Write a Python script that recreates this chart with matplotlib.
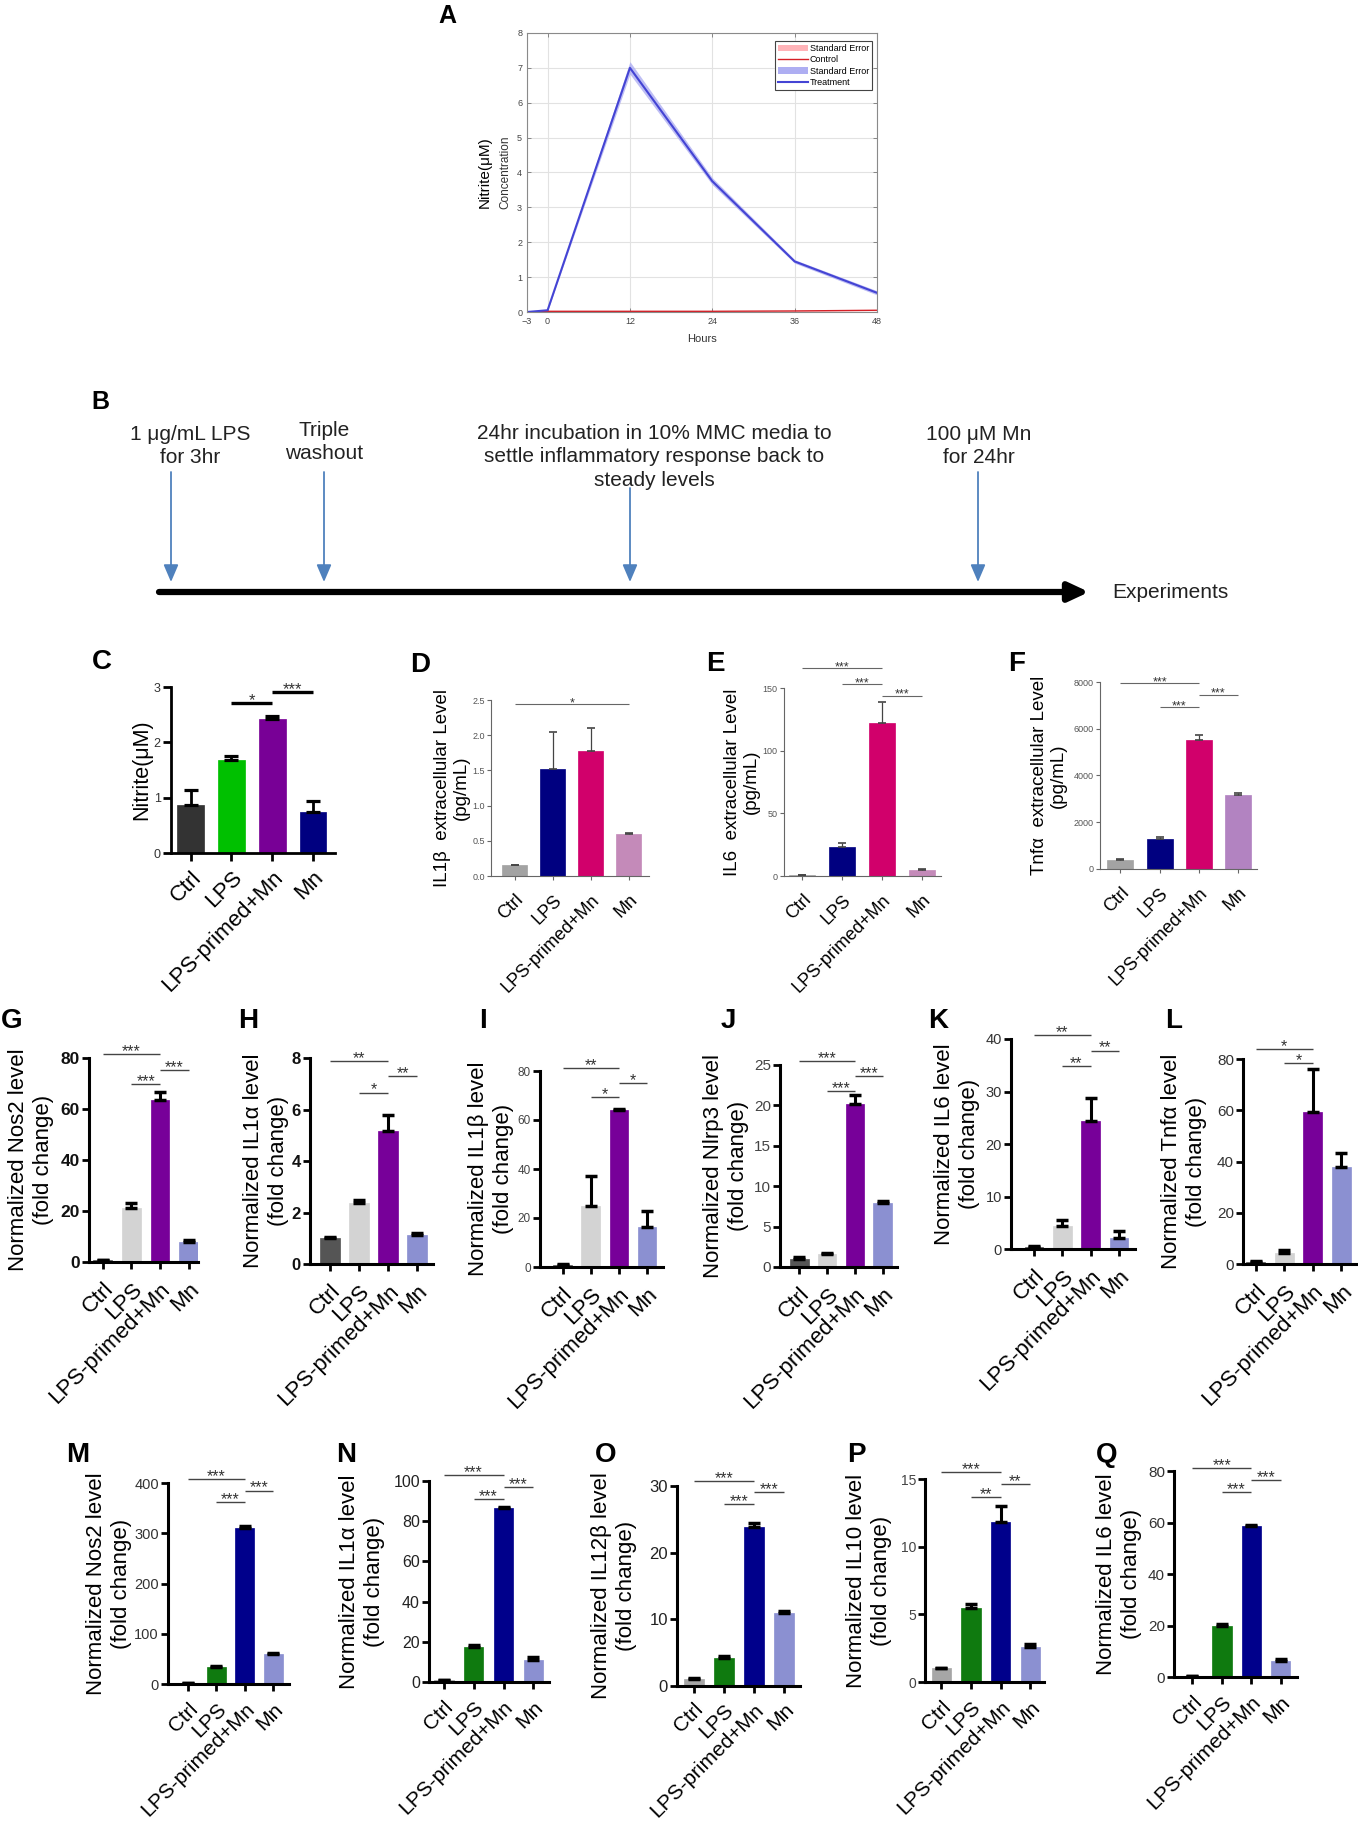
import numpy as np
import matplotlib
matplotlib.use("Agg")
import matplotlib.pyplot as plt
from matplotlib.patches import Patch
from matplotlib.lines import Line2D

plt.rcParams['font.family'] = ['Liberation Sans', 'DejaVu Sans']

#//////////////////////////////////////////////////////////////////////////////
# data

groups = ['Ctrl', 'LPS', 'LPS-primed+Mn', 'Mn']

# panel A - nitrite time course
hours = [-3, 0, 12, 24, 36, 48]
treat = [0.0, 0.05, 7.0, 3.75, 1.45, 0.55]
treat_se = [0.0, 0.02, 0.18, 0.10, 0.05, 0.06]
ctrl = [0.0, 0.02, 0.02, 0.02, 0.03, 0.05]
ctrl_se = [0.0, 0.01, 0.01, 0.01, 0.01, 0.01]

# panel B - protocol timeline
b_events = ['1 μg/mL LPS\nfor 3hr', 'Triple\nwashout',
            '24hr incubation in 10% MMC media to\nsettle inflammatory response back to\nsteady levels',
            '100 μM Mn\nfor 24hr']
b_end = 'Experiments'

# bar panels: means, errors (upper SEM), significance (i, j, height, stars)
c_vals = [0.87, 1.68, 2.43, 0.74]
c_err = [0.27, 0.07, 0.05, 0.20]
c_sig = [(1, 2, 2.71, '*'), (2, 3, 2.91, '***')]

d_vals = [0.15, 1.52, 1.77, 0.60]
d_err = [0.01, 0.53, 0.33, 0.01]
d_sig = [(0, 3, 2.44, '*')]

e_vals = [0.5, 23, 122, 4.5]
e_err = [0.3, 3, 17, 0.7]
e_sig = [(0, 2, 166, '***'), (1, 2, 153, '***'), (2, 3, 144, '***')]

f_vals = [380, 1300, 5530, 3150]
f_err = [30, 70, 200, 100]
f_sig = [(0, 2, 7950, '***'), (1, 2, 6930, '***'), (2, 3, 7460, '***')]

g_vals = [0.6, 21, 63.5, 8]
g_err = [0.2, 2, 3, 0.7]
g_sig = [(0, 2, 81.7, '***'), (1, 2, 69.9, '***'), (2, 3, 75.4, '***')]

h_vals = [1.0, 2.38, 5.15, 1.12]
h_err = [0.03, 0.12, 0.65, 0.07]
h_sig = [(0, 2, 7.9, '**'), (1, 2, 6.66, '*'), (2, 3, 7.29, '**')]

i_vals = [0.8, 25, 64, 16.5]
i_err = [0.6, 12, 0.5, 6.5]
i_sig = [(0, 2, 81.1, '**'), (1, 2, 69.3, '*'), (2, 3, 75.2, '*')]

j_vals = [1.0, 1.55, 20.2, 7.9]
j_err = [0.25, 0.15, 1.1, 0.3]
j_sig = [(0, 2, 25.5, '***'), (1, 2, 21.8, '***'), (2, 3, 23.6, '***')]

k_vals = [0.3, 4.3, 24.4, 2.1]
k_err = [0.3, 1.3, 4.3, 1.3]
k_sig = [(0, 2, 40.8, '**'), (1, 2, 34.8, '**'), (2, 3, 37.8, '**')]

l_vals = [0.8, 4.3, 59.5, 38]
l_err = [0.5, 1.2, 16.5, 5.5]
l_sig = [(0, 2, 83.9, '*'), (1, 2, 78.6, '*')]

m_vals = [1.5, 33, 310, 59]
m_err = [1, 3, 4, 2]
m_sig = [(0, 2, 408, '***'), (1, 2, 362, '***'), (2, 3, 385, '***')]

n_vals = [0.8, 17.5, 86.5, 11]
n_err = [0.4, 0.8, 0.5, 1.3]
n_sig = [(0, 2, 103, '***'), (1, 2, 90.9, '***'), (2, 3, 97, '***')]

o_vals = [1.0, 4.2, 23.9, 11.0]
o_err = [0.2, 0.3, 0.5, 0.2]
o_sig = [(0, 2, 30.8, '***'), (1, 2, 27.3, '***'), (2, 3, 29.1, '***')]

p_vals = [1.0, 5.5, 11.8, 2.6]
p_err = [0.05, 0.3, 1.2, 0.2]
p_sig = [(0, 2, 15.5, '***'), (1, 2, 13.7, '**'), (2, 3, 14.6, '**')]

q_vals = [0.3, 20, 58.5, 6.3]
q_err = [0.1, 0.6, 0.6, 0.6]
q_sig = [(0, 2, 81.3, '***'), (1, 2, 71.9, '***'), (2, 3, 76.4, '***')]

#//////////////////////////////////////////////////////////////////////////////
# colours

cols_c = ['#333333', '#00c000', '#780096', '#000080']
cols_def = ['#a3a3a3', '#000080', '#d1006b', '#c48ab9']
cols_f = ['#a3a3a3', '#000080', '#d1006b', '#b283c1']
cols_gl = ['#555555', '#d3d3d3', '#770099', '#8b90d1']
cols_mq = ['#a6a6a6', '#0f7a0f', '#00008b', '#8b90d1']

#//////////////////////////////////////////////////////////////////////////////
# figure, everything placed in pixels of the 1358x1826 canvas

W, H = 1358, 1826
fig = plt.figure(figsize=(W / 100, H / 100), dpi=100)


def px_axes(l, r, t, b):
    return fig.add_axes([l / W, 1 - b / H, (r - l) / W, (b - t) / H])


def fig_text(x, y, s, **kw):
    fig.text(x / W, 1 - y / H, s, **kw)


# overlay for the timeline and panel letters
ov = fig.add_axes([0, 0, 1, 1])
ov.set_xlim(0, W)
ov.set_ylim(H, 0)
ov.axis('off')

letters = {'A': (447, 16), 'B': (100, 402), 'C': (102, 662), 'D': (420, 665),
           'E': (715, 664), 'F': (1017, 664), 'G': (12, 1021), 'H': (248, 1021),
           'I': (483, 1021), 'J': (728, 1021), 'K': (938, 1021), 'L': (1174, 1021),
           'M': (78, 1455), 'N': (346, 1455), 'O': (606, 1455), 'P': (856, 1455),
           'Q': (1107, 1455)}
for k, (x, y) in letters.items():
    ov.text(x, y, k, fontsize=18 if k in 'AB' else 20, fontweight='bold',
            ha='center', va='center')

#//////////////////////////////////////////////////////////////////////////////
# A

ax = px_axes(527, 877, 33, 312)
ax.fill_between(hours, np.array(ctrl) - ctrl_se, np.array(ctrl) + ctrl_se,
                color='#ffb3b8', alpha=0.8, lw=0)
ax.plot(hours, ctrl, color='#d61f26', lw=1.0)
ax.fill_between(hours, np.array(treat) - treat_se, np.array(treat) + treat_se,
                color='#aeaef2', alpha=0.8, lw=0)
ax.plot(hours, treat, color='#4444d4', lw=1.5)
ax.set_xlim(-3, 48)
ax.set_ylim(0, 8)
ax.set_xticks([-3, 0, 12, 24, 36, 48])
ax.set_yticks(range(9))
ax.grid(True, color='#e2e2e2', lw=0.8)
ax.set_axisbelow(True)
ax.tick_params(direction='in', top=True, right=True, labelsize=6.5,
               labelcolor='#444444', length=3, color='#777777', width=0.6)
for s in ax.spines.values():
    s.set_color('#8a8a8a')
    s.set_linewidth(0.8)
handles = [Patch(facecolor='#ffb3b8', edgecolor='none'),
           Line2D([], [], color='#d61f26', lw=1.0),
           Patch(facecolor='#aeaef2', edgecolor='none'),
           Line2D([], [], color='#4444d4', lw=1.5)]
leg = ax.legend(handles, ['Standard Error', 'Control', 'Standard Error', 'Treatment'],
                loc='upper right', bbox_to_anchor=(0.985, 0.97), fontsize=6.5,
                fancybox=False, edgecolor='#444444', framealpha=1,
                handlelength=3.3, handletextpad=0.2, borderpad=0.3,
                labelspacing=0.25, borderaxespad=0)
leg.get_frame().set_linewidth(0.8)
fig_text(485, 172, 'Nitrite(μM)', rotation=90, ha='center', va='center', fontsize=11)
fig_text(505, 172, 'Concentration', rotation=90, ha='center', va='center',
         fontsize=8.5, color='#333333')
fig_text(702, 339, 'Hours', ha='center', va='center', fontsize=8, color='#333333')

#//////////////////////////////////////////////////////////////////////////////
# B - timeline

b_text_x = [190, 324, 654, 979]
b_text_y = [446, 442, 457, 446]
b_arrow_x = [171, 324, 630, 978]
b_arrow_top = [472, 472, 488, 472]
for s, tx, ty, axx, at in zip(b_events, b_text_x, b_text_y, b_arrow_x, b_arrow_top):
    ov.text(tx, ty, s, ha='center', va='center', fontsize=15,
            linespacing=1.3, color='#222222')
    ov.annotate('', xy=(axx, 582), xytext=(axx, at),
                arrowprops=dict(arrowstyle='-|>,head_width=0.3,head_length=0.7',
                                color='#4f81bd', lw=1.3, mutation_scale=15,
                                shrinkA=0, shrinkB=0))
ov.annotate('', xy=(1089, 592), xytext=(159, 592),
            arrowprops=dict(arrowstyle='-|>,head_width=0.28,head_length=0.6',
                            color='black', lw=4.5, mutation_scale=20,
                            shrinkA=0, shrinkB=0))
ov.text(1170, 592, b_end, ha='center', va='center', fontsize=15, color='#222222')

#//////////////////////////////////////////////////////////////////////////////
# bar panels

styles = {
    'c': dict(spine_lw=2.0, spine_col='black', xtick_size=16, tick_len=6, tick_w=2.0,
              xpad=4, err_col='black', err_lw=2.0, cap=5, sig_lw=2.4, sig_col='black',
              star_size=12, ylab_size=15.5, ls=1.2),
    'light': dict(spine_lw=0.8, spine_col='#666666', xtick_size=13, tick_len=3,
                  tick_w=0.8, xpad=8, err_col='#444444', err_lw=0.9, cap=3,
                  sig_lw=0.8, sig_col='#666666', star_size=9, ylab_size=13.5, ls=1.15),
    'bold': dict(spine_lw=2.2, spine_col='black', xtick_size=15, tick_len=5,
                 tick_w=2.0, xpad=8, err_col='black', err_lw=2.2, cap=4, sig_lw=1.0,
                 sig_col='#444444', star_size=11.5, ylab_size=16, ls=1.3),
}


def bar_panel(rect, xlim, yticks, vals, errs, colors, sig, ylab, ylab_x, style,
              ytick=(9, 'normal', '#333333'), fmt='%d', xpad=None, xsize=None):
    st = styles[style]
    ax = px_axes(*rect)
    x = np.arange(len(vals))
    ax.bar(x, vals, width=0.66, color=colors, edgecolor=colors, lw=0.5, zorder=2)
    ax.errorbar(x, vals, yerr=[np.zeros(len(vals)), errs], fmt='none',
                ecolor=st['err_col'], elinewidth=st['err_lw'], capsize=st['cap'],
                capthick=st['err_lw'] + 0.3, zorder=3)
    ax.set_xlim(*xlim)
    ax.set_ylim(yticks[0], yticks[-1])
    ax.set_yticks(yticks)
    ax.set_yticklabels([fmt % t for t in yticks], fontweight=ytick[1])
    ax.set_xticks(x)
    ax.set_xticklabels(groups, rotation=45, ha='right', va='top',
                       rotation_mode='anchor',
                       fontsize=st['xtick_size'] if xsize is None else xsize)
    for side in ['top', 'right']:
        ax.spines[side].set_visible(False)
    for side in ['left', 'bottom']:
        ax.spines[side].set_linewidth(st['spine_lw'])
        ax.spines[side].set_color(st['spine_col'])
    ax.tick_params(axis='y', labelsize=ytick[0], labelcolor=ytick[2],
                   length=st['tick_len'], width=st['tick_w'], color=st['spine_col'],
                   pad=1.5)
    ax.tick_params(axis='x', length=st['tick_len'], width=st['tick_w'],
                   color=st['spine_col'], pad=st['xpad'] if xpad is None else xpad)
    for a, b, y, stars in sig:
        ax.plot([a, b], [y, y], color=st['sig_col'], lw=st['sig_lw'], clip_on=False,
                solid_capstyle='butt')
        ax.annotate(stars, xy=((a + b) / 2, y), xytext=(0, -1.5),
                    textcoords='offset points', ha='center', va='baseline',
                    fontsize=st['star_size'], color='#333333', annotation_clip=False)
    yc = (rect[2] + rect[3]) / 2
    fig_text(ylab_x, yc, ylab, rotation=90, ha='center', va='center',
             fontsize=st['ylab_size'], multialignment='center', linespacing=st['ls'])
    return ax


bar_panel((171, 335, 687, 853), (-0.48, 3.54), [0, 1, 2, 3], c_vals, c_err, cols_c,
          c_sig, 'Nitrite(μM)', 142, 'c', ytick=(9, 'normal', '#333333'))
bar_panel((491, 649, 700, 876), (-0.63, 3.53), [0, 0.5, 1.0, 1.5, 2.0, 2.5], d_vals,
          d_err, cols_def, d_sig, 'IL1β  extracellular Level\n(pg/mL)', 452, 'light',
          ytick=(6.5, 'normal', '#555555'), fmt='%.1f')
bar_panel((784, 941, 688, 876), (-0.46, 3.48), [0, 50, 100, 150], e_vals, e_err,
          cols_def, e_sig, 'IL6  extracellular Level\n(pg/mL)', 742, 'light',
          ytick=(6.5, 'normal', '#555555'))
bar_panel((1100, 1257, 682, 869), (-0.52, 3.48), [0, 2000, 4000, 6000, 8000], f_vals,
          f_err, cols_f, f_sig, 'Tnfα  extracellular Level\n(pg/mL)', 1049, 'light',
          ytick=(6.5, 'normal', '#555555'))

bar_panel((89, 198, 1058, 1262), (-0.48, 3.33), [0, 20, 40, 60, 80], g_vals, g_err,
          cols_gl, g_sig, 'Normalized Nos2 level\n(fold change)', 31, 'bold',
          ytick=(12.5, 'bold', '#111111'), xsize=16, xpad=7)
bar_panel((310, 433, 1058, 1264), (-0.69, 3.55), [0, 2, 4, 6, 8], h_vals, h_err,
          cols_gl, h_sig, 'Normalized IL1α level\n(fold change)', 266, 'bold',
          ytick=(12, 'bold', '#111111'), xsize=16, xpad=7)
bar_panel((540, 663, 1071, 1267), (-0.8, 3.57), [0, 20, 40, 60, 80], i_vals, i_err,
          cols_gl, i_sig, 'Normalized IL1β level\n(fold change)', 491, 'bold',
          ytick=(8.5, 'normal', '#444444'), xsize=16, xpad=7)
bar_panel((780, 897, 1065, 1267), (-0.7, 3.52), [0, 5, 10, 15, 20, 25], j_vals, j_err,
          cols_gl, j_sig, 'Normalized Nlrp3 level\n(fold change)', 726, 'bold',
          ytick=(11, 'normal', '#444444'), xsize=16, xpad=7)
bar_panel((1011, 1135, 1039, 1249), (-0.81, 3.57), [0, 10, 20, 30, 40], k_vals, k_err,
          cols_gl, k_sig, 'Normalized IL6 level\n(fold change)', 957, 'bold',
          ytick=(10.5, 'normal', '#333333'), xsize=16, xpad=7)
bar_panel((1243, 1358, 1059, 1264), (-0.45, 3.58), [0, 20, 40, 60, 80], l_vals, l_err,
          cols_gl, l_sig, 'Normalized Tnfα level\n(fold change)', 1184, 'bold',
          ytick=(11, 'normal', '#333333'), xsize=16, xpad=7)

bar_panel((168, 289, 1483, 1684), (-0.7, 3.55), [0, 100, 200, 300, 400], m_vals, m_err,
          cols_mq, m_sig, 'Normalized Nos2 level\n(fold change)', 109, 'bold',
          ytick=(10.5, 'normal', '#333333'), xpad=6)
bar_panel((429, 549, 1481, 1682), (-0.49, 3.52), [0, 20, 40, 60, 80, 100], n_vals,
          n_err, cols_mq, n_sig, 'Normalized IL1α level\n(fold change)', 362, 'bold',
          ytick=(11.5, 'normal', '#222222'), xpad=6)
bar_panel((677, 800, 1486, 1686), (-0.55, 3.53), [0, 10, 20, 30], o_vals, o_err,
          cols_mq, o_sig, 'Normalized IL12β level\n(fold change)', 614, 'bold',
          ytick=(12, 'normal', '#222222'), xpad=5)
bar_panel((925, 1044, 1479, 1682), (-0.55, 3.46), [0, 5, 10, 15], p_vals, p_err,
          cols_mq, p_sig, 'Normalized IL10 level\n(fold change)', 869, 'bold',
          ytick=(10, 'normal', '#444444'), xpad=6)
bar_panel((1174, 1297, 1471, 1677), (-0.63, 3.56), [0, 20, 40, 60, 80], q_vals, q_err,
          cols_mq, q_sig, 'Normalized IL6 level\n(fold change)', 1119, 'bold',
          ytick=(11, 'normal', '#333333'), xpad=6)

fig.savefig('out.png', dpi=100)
